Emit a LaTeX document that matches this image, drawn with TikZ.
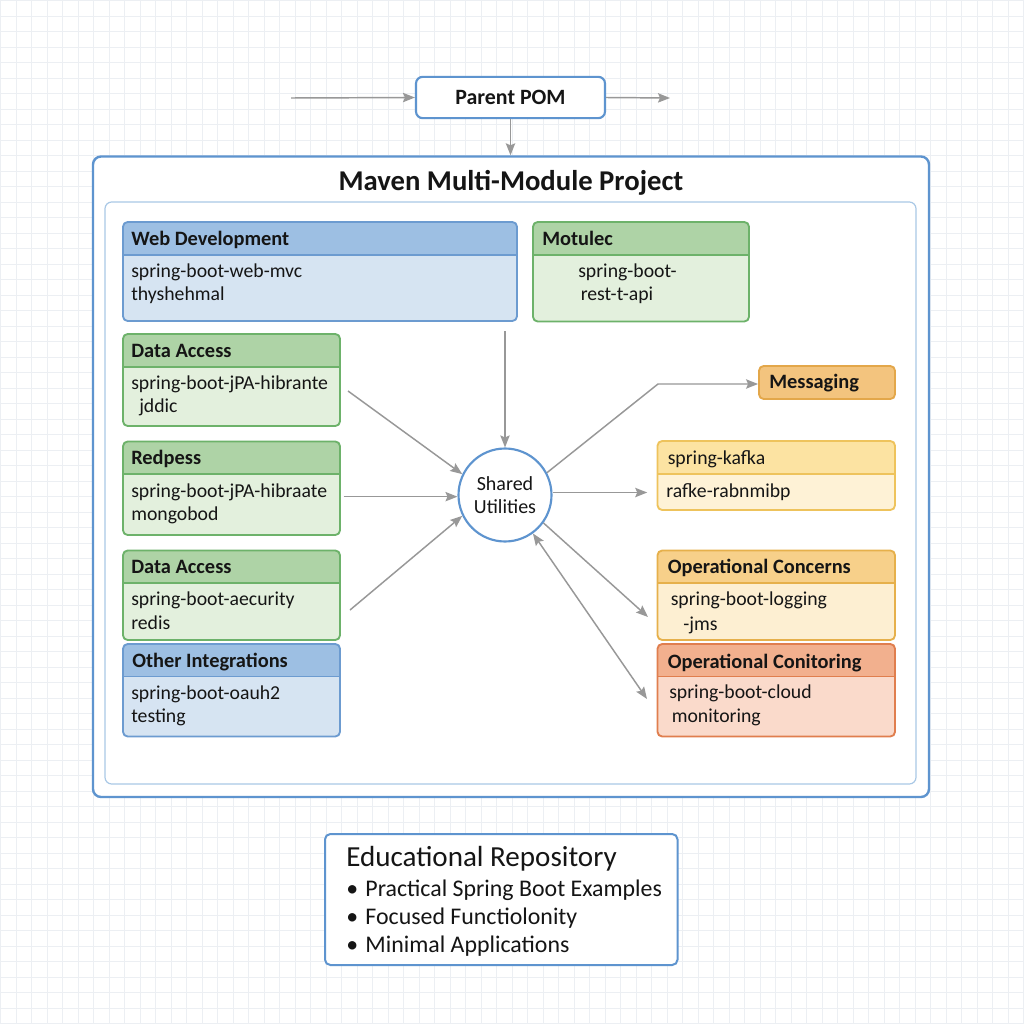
\documentclass[tikz,border=0pt]{standalone}
\usepackage{fontspec}
\setmainfont{Carlito}
\usetikzlibrary{fit,arrows.meta}
\definecolor{gridc}{HTML}{ECEFF3}
\definecolor{txt}{HTML}{151515}
\definecolor{arrc}{HTML}{989898}
\definecolor{bluebd}{HTML}{5E94CF}
\definecolor{innerbd}{HTML}{A9C8E6}
\definecolor{blhead}{HTML}{9DBFE3}
\definecolor{blbody}{HTML}{D6E4F2}
\definecolor{blline}{HTML}{6C9BD0}
\definecolor{grhead}{HTML}{AED3A6}
\definecolor{grbody}{HTML}{E3F0DD}
\definecolor{grline}{HTML}{6DB26A}
\definecolor{kahead}{HTML}{FCE3A2}
\definecolor{kabody}{HTML}{FEF2D6}
\definecolor{kaline}{HTML}{EEC35C}
\definecolor{ochead}{HTML}{F7D08A}
\definecolor{ocbody}{HTML}{FDEFD2}
\definecolor{ocline}{HTML}{E6B04B}
\definecolor{omhead}{HTML}{F2B08E}
\definecolor{ombody}{HTML}{FADACB}
\definecolor{omline}{HTML}{E07E4E}
\definecolor{msgfill}{HTML}{F3C47E}
\definecolor{msgline}{HTML}{E3A74A}
\newcommand{\modbox}[7]{%
  \begin{scope}
    \clip[rounded corners=3.5pt] (#2,#3) rectangle (#4,#5);
    \fill[#7body] (#2,#3) rectangle (#4,#5);
    \fill[#7head] (#2,#3) rectangle (#4,#6);
    \draw[#7line, line width=0.9pt] (#2,#6) -- (#4,#6);
  \end{scope}
  \node[fit={(#2,#3)(#4,#5)}, inner sep=0pt, draw=#7line, line width=1.4pt, rounded corners=3.5pt] (#1) {};
}
\begin{document}
\begin{tikzpicture}[x=0.75pt,y=-0.75pt,
  tip/.tip={Stealth[length=9pt,width=7pt,inset=1.5pt]},
  arr/.style={draw=arrc, line width=1.1pt, -tip},
  hdr/.style={anchor=base west, font=\fontsize{15.3}{18}\selectfont\bfseries, text=txt, inner sep=0pt},
  bdy/.style={anchor=base west, font=\fontsize{14.8}{18}\selectfont, text=txt, inner sep=0pt},
]
\useasboundingbox (0,0) rectangle (1024,1024);
\fill[white] (0,0) rectangle (1024,1024);
\foreach \i in {0,...,66} {
  \draw[gridc, line width=0.6pt] (\i*15.5+0.5,0) -- (\i*15.5+0.5,1024);
  \draw[gridc, line width=0.6pt] (0,\i*15.5+0.5) -- (1024,\i*15.5+0.5);
}
% Parent POM
\node[draw=bluebd, fill=white, line width=1.6pt, rounded corners=5pt, minimum width=141.75pt, minimum height=31pt, inner sep=0pt] (pp) at (510.5,97.5) {};
\node[anchor=base, font=\fontsize{16.4}{19}\selectfont\bfseries, text=txt, inner sep=0pt] (pptext) at (510.5,104) {Parent POM};
\coordinate (inL) at (291,98);
\coordinate (outR) at (670,98);
\draw[arr] (inL) -- (pp.west);
\draw[arr] (pp.east) -- (outR);
% outer box
\node[fit={(93,156.5)(929,797)}, inner sep=0pt, draw=bluebd, fill=white, line width=1.8pt, rounded corners=6pt] (outer) {};
\draw[arr] (pp.south) -- (pp.south |- outer.north);
\node[anchor=base, font=\fontsize{21.5}{25}\selectfont\bfseries, text=txt, inner sep=0pt] (title) at (511,190) {Maven Multi-Module Project};
\node[fit={(105,202)(916,784)}, inner sep=0pt, draw=innerbd, line width=0.9pt, rounded corners=5pt] (inner) {};
% left modules
\modbox{web}{123}{222}{517}{321}{255}{bl}
\node[hdr] (webh) at (131,245) {Web Development};
\node[bdy] (web1) at (131,277) {spring-boot-web-mvc};
\node[bdy] (web2) at (131,300) {thyshehmal};
\modbox{mot}{533}{222}{749}{321.5}{255}{gr}
\node[hdr] (moth) at (542,245) {Motulec};
\node[bdy] (mot1) at (578,277) {spring-boot-};
\node[bdy] (mot2) at (580.5,300) {rest-t-api};
\modbox{da}{123}{334}{340}{426}{367}{gr}
\node[hdr] (dah) at (131,357) {Data Access};
\node[bdy] (da1) at (131,389) {spring-boot-jPA-hibrante};
\node[bdy] (da2) at (139,412) {jddic};
\modbox{red}{123}{441.5}{340}{535}{474}{gr}
\node[hdr] (redh) at (131,464) {Redpess};
\node[bdy] (red1) at (131,497) {spring-boot-jPA-hibraate};
\node[bdy] (red2) at (131,520) {mongobod};
\modbox{db}{123}{550.5}{340}{640}{583}{gr}
\node[hdr] (dbh) at (131,573) {Data Access};
\node[bdy] (db1) at (131,605) {spring-boot-aecurity};
\node[bdy] (db2) at (131,629) {redis};
\modbox{oi}{123}{644}{340}{736.5}{676.5}{bl}
\node[hdr] (oih) at (132,667) {Other Integrations};
\node[bdy] (oi1) at (131,699) {spring-boot-oauh2};
\node[bdy] (oi2) at (131,722) {testing};
% right modules
\node[fit={(759,366)(895,399)}, inner sep=0pt, draw=msgline, fill=msgfill, line width=1.4pt, rounded corners=3.5pt] (msg) {};
\node[hdr] (msgh) at (769,388.5) {Messaging};
\modbox{ka}{657.5}{441}{895}{510}{474}{ka}
\node[bdy] (ka1) at (667.5,464) {spring-kafka};
\node[bdy] (ka2) at (666,497) {rafke-rabnmibp};
\modbox{oc}{657.5}{550.5}{895}{640}{583}{oc}
\node[hdr] (och) at (667.5,573) {Operational Concerns};
\node[bdy] (oc1) at (670.5,605) {spring-boot-logging};
\node[bdy] (oc2) at (683,630) {-jms};
\modbox{om}{657.5}{644}{895}{736.5}{676.5}{om}
\node[hdr] (omh) at (667.5,668) {Operational Conitoring};
\node[bdy] (om1) at (669,698) {spring-boot-cloud};
\node[bdy] (om2) at (671.5,722.5) {monitoring};
% shared utilities
\node[circle, draw=bluebd, fill=white, line width=1.6pt, minimum size=69.75pt, inner sep=0pt, align=center, font=\fontsize{15}{17.6}\selectfont, text=txt] (su) at (505,495) {Shared\\Utilities};
% connectors
\draw[arr] ([yshift=-7pt]su.north |- web.south) -- (su.north);
\coordinate (daout) at (348,391);
\coordinate (dbout) at (350,610);
\draw[arr] (daout) -- (su.154);
\draw[arr, shorten <=2pt] (red.east |- su.182) -- (su.182);
\draw[arr] (dbout) -- (su.206);
\coordinate (bend) at (658,384);
\draw[arr] (su.28) -- (bend) -- (bend -| msg.west);
\draw[arr, shorten >=7pt] (su.3) -- (su.3 -| ka.west);
\coordinate (ocin) at (648,617);
\coordinate (omin) at (647,699);
\draw[arr] (su.-36) -- (ocin);
\draw[draw=arrc, line width=1.1pt, tip-tip] (su.-54) -- (omin);
% educational repository
\node[fit={(325,834)(677.5,965)}, inner sep=0pt, draw=bluebd, fill=white, line width=1.5pt, rounded corners=4pt] (edu) {};
\node[anchor=base west, font=\fontsize{21.8}{25}\selectfont, text=txt, inner sep=0pt] (edut) at (346,866) {Educational Repository};
\node[anchor=base west, font=\fontsize{17.9}{21}\selectfont, text=txt, inner sep=0pt] (edb1) at (346,896.5) {•\hspace{5.5pt}Practical Spring Boot Examples};
\node[anchor=base west, font=\fontsize{17.9}{21}\selectfont, text=txt, inner sep=0pt] (edb2) at (346,924) {•\hspace{5.5pt}Focused Functiolonity};
\node[anchor=base west, font=\fontsize{17.9}{21}\selectfont, text=txt, inner sep=0pt] (edb3) at (346,952) {•\hspace{5.5pt}Minimal Applications};
\end{tikzpicture}
\end{document}
